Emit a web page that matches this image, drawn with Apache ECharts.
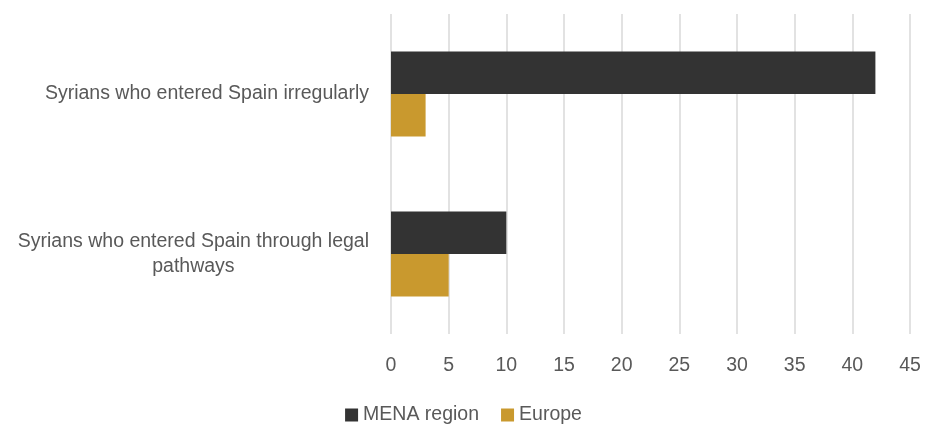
<!DOCTYPE html>
<html>
<head>
<meta charset="utf-8">
<script src="https://cdn.jsdelivr.net/npm/echarts@6/dist/echarts.min.js"></script>
<style>
  html, body { margin: 0; padding: 0; background: #fff; }
  #chart { width: 927px; height: 425px; }
</style>
</head>
<body>
<div id="chart"></div>
<script>
  // data
  const categories = ['Syrians who entered Spain irregularly', 'Syrians who entered Spain through legal\npathways'];
  const menaValues = [42, 10];
  const europeValues = [3, 5];
  const xTicks = [0, 45, 5];

  const font = '"Liberation Sans Narrow", "Arial Narrow", "Liberation Sans", sans-serif';
  const textColor = '#595959';

  const myChart = echarts.init(document.getElementById('chart'));
  let option = {
    animation: false,
    textStyle: { fontFamily: font },
    legend: {
      data: ['MENA region', 'Europe'],
      top: 400,
      left: 'center',
      itemWidth: 13,
      itemHeight: 13,
      itemGap: 22,
      icon: 'rect',
      textStyle: { fontFamily: font, fontSize: 19.5, color: textColor }
    },
    grid: {
      left: 391,
      right: 17,
      top: 14,
      bottom: 91,
      containLabel: false
    },
    xAxis: {
      type: 'value',
      min: xTicks[0],
      max: xTicks[1],
      interval: xTicks[2],
      axisLine: { show: false },
      axisTick: { show: false },
      splitLine: { lineStyle: { color: '#d9d9d9', width: 1.5 } },
      axisLabel: { fontFamily: font, fontSize: 19.5, color: textColor, margin: 22 }
    },
    yAxis: {
      type: 'category',
      inverse: true,
      data: categories,
      axisLine: { show: false },
      axisTick: { show: false },
      axisLabel: {
        margin: 22,
        formatter: function (v) {
          return v.split('\n').map(function (l) { return '{c|' + l + '}'; }).join('\n');
        },
        rich: {
          c: { align: 'center', fontFamily: font, fontSize: 19.5, color: textColor, lineHeight: 25 }
        }
      }
    },
    series: [
      {
        name: 'MENA region',
        type: 'bar',
        data: menaValues,
        barGap: '0%',
        barCategoryGap: '47%',
        itemStyle: { color: '#333333' }
      },
      {
        name: 'Europe',
        type: 'bar',
        data: europeValues,
        barGap: '0%',
        barCategoryGap: '47%',
        itemStyle: { color: '#C9992E' }
      }
    ]
  };

  myChart.setOption(option);
  window.addEventListener('resize', function () {
    myChart.resize();
  });
</script>
</body>
</html>
